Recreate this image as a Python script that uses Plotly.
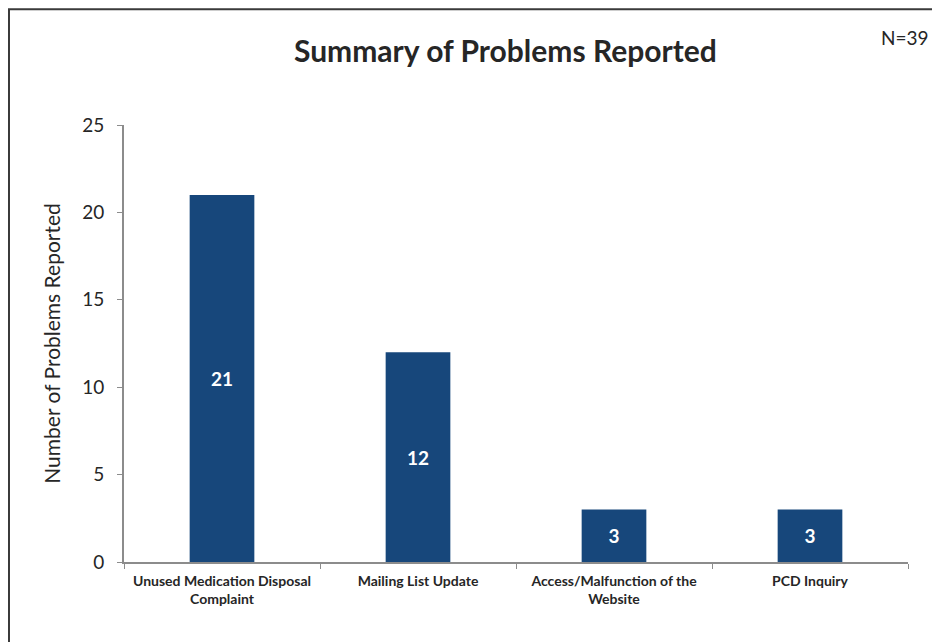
import plotly.graph_objects as go

# ── Data ──────────────────────────────────────────────────────────────────────
CATEGORIES = [
    "Unused Medication Disposal<br>Complaint",
    "Mailing List Update",
    "Access/Malfunction of the<br>Website",
    "PCD Inquiry",
]
COUNTS = [21, 12, 3, 3]
Y_TICKS = [0, 5, 10, 15, 20, 25]

BAR_COLOR = "#17477b"
AXIS_COLOR = "#8c8c8c"
TEXT_COLOR = "#262626"
FONT = "Lato, 'Open Sans', sans-serif"

# the page body adds an 8px margin, so margins are offset by that amount
fig = go.Figure(
    go.Bar(
        x=CATEGORIES,
        y=COUNTS,
        width=0.33,
        marker=dict(color=BAR_COLOR, line=dict(width=0)),
        text=[str(v) for v in COUNTS],
        textposition="inside",
        insidetextanchor="middle",
        textfont=dict(color="white", size=19, family=FONT, weight="bold"),
        textangle=0,
    )
)

fig.update_layout(
    width=940,
    height=642,
    margin=dict(l=116, r=40, t=117, b=88),
    paper_bgcolor="white",
    plot_bgcolor="white",
    showlegend=False,
    font=dict(family=FONT, color=TEXT_COLOR),
    xaxis=dict(
        showline=True,
        linecolor=AXIS_COLOR,
        linewidth=2,
        ticks="outside",
        tickson="boundaries",
        ticklen=5,
        tickcolor=AXIS_COLOR,
        ticklabelstandoff=5,
        tickfont=dict(size=14, family=FONT, color=TEXT_COLOR, weight="bold"),
        showgrid=False,
    ),
    yaxis=dict(
        range=[0, 25],
        tickvals=Y_TICKS,
        showline=True,
        linecolor=AXIS_COLOR,
        linewidth=2,
        ticks="outside",
        ticklen=5,
        tickcolor=AXIS_COLOR,
        ticklabelstandoff=9,
        tickfont=dict(size=19, family=FONT, color=TEXT_COLOR),
        showgrid=False,
        zeroline=False,
        title=dict(
            text="Number of Problems Reported",
            font=dict(size=21, family=FONT, color=TEXT_COLOR),
            standoff=16,
        ),
    ),
    annotations=[
        dict(
            text="<b>Summary of Problems Reported</b>",
            xref="paper", yref="paper",
            x=0.486, y=1.172,
            xanchor="center", yanchor="middle",
            showarrow=False,
            font=dict(size=30, family=FONT, color=TEXT_COLOR),
        ),
        dict(
            text="N=39",
            xref="paper", yref="paper",
            x=1.029, y=1.2,
            xanchor="right", yanchor="middle",
            showarrow=False,
            font=dict(size=19, family=FONT, color=TEXT_COLOR),
        ),
    ],
    shapes=[
        dict(
            type="rect",
            xref="paper", yref="paper",
            x0=-0.1467, x1=1.08, y0=-0.25, y1=1.265,
            line=dict(color="#3a3a3a", width=2),
            fillcolor="rgba(0,0,0,0)",
            layer="below",
        )
    ],
)

fig.write_html("out.html")
